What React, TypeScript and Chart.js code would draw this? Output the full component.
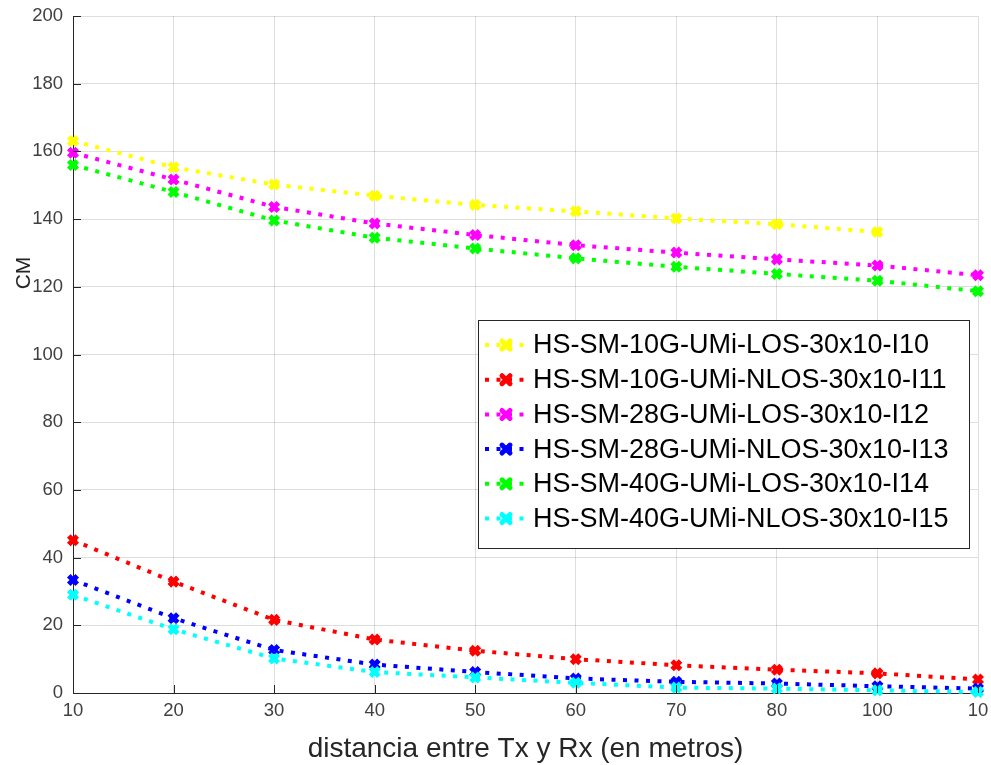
import React, { useEffect, useRef } from "react";
import { Chart, registerables } from "chart.js";

Chart.register(...registerables);

const X_LABELS = ["10", "20", "30", "40", "50", "60", "70", "80", "100", "10"];
const Y_MIN = 0;
const Y_MAX = 200;
const Y_STEP = 20;

const SERIES_NAMES = [
  "HS-SM-10G-UMi-LOS-30x10-I10",
  "HS-SM-10G-UMi-NLOS-30x10-I11",
  "HS-SM-28G-UMi-LOS-30x10-I12",
  "HS-SM-28G-UMi-NLOS-30x10-I13",
  "HS-SM-40G-UMi-LOS-30x10-I14",
  "HS-SM-40G-UMi-NLOS-30x10-I15",
];
const SERIES_COLORS = ["#ffff00", "#ff0000", "#ff00ff", "#0000ff", "#00ff00", "#00ffff"];

const LOS_10G = [163.1, 155.3, 150.2, 146.9, 144.2, 142.3, 140.2, 138.5, 136.2];
const NLOS_10G = [45.1, 32.9, 21.6, 15.8, 12.5, 10.0, 8.2, 6.9, 5.8, 4.0];
const LOS_28G = [159.6, 151.7, 143.6, 138.7, 135.3, 132.3, 130.1, 128.1, 126.3, 123.4];
const NLOS_28G = [33.4, 22.1, 12.7, 8.4, 6.2, 4.3, 3.3, 2.8, 2.0, 1.3];
const LOS_40G = [156.0, 148.0, 139.6, 134.5, 131.3, 128.4, 125.9, 123.8, 121.8, 118.7];
const NLOS_40G = [29.0, 18.8, 10.2, 6.2, 4.6, 3.0, 1.6, 1.3, 0.8, 0.3];

const SERIES_VALUES = [LOS_10G, NLOS_10G, LOS_28G, NLOS_28G, LOS_40G, NLOS_40G];

const X_TITLE = "distancia entre Tx y Rx (en metros)";
const Y_TITLE = "CM";

const FONT = "'Liberation Sans', Arial, Helvetica, sans-serif";
const AXIS_COLOR = "#262626";
const TICK_COLOR = "#404040";
const DASH = [4, 7.5];

function drawX(ctx: CanvasRenderingContext2D, x: number, y: number, r: number, color: string, lw: number) {
  ctx.save();
  ctx.strokeStyle = color;
  ctx.lineWidth = lw;
  ctx.lineCap = "round";
  ctx.setLineDash([]);
  ctx.beginPath();
  ctx.moveTo(x - r, y - r);
  ctx.lineTo(x + r, y + r);
  ctx.moveTo(x - r, y + r);
  ctx.lineTo(x + r, y - r);
  ctx.stroke();
  ctx.restore();
}

const decorPlugin = {
  id: "decor",
  afterDraw(chart: any) {
    const ctx: CanvasRenderingContext2D = chart.ctx;
    const ca = chart.chartArea;
    const xs = chart.scales.x;
    const ys = chart.scales.y;

    // inward tick marks
    ctx.save();
    ctx.strokeStyle = AXIS_COLOR;
    ctx.lineWidth = 1;
    ctx.beginPath();
    for (let v = Y_MIN; v <= Y_MAX; v += Y_STEP) {
      const y = Math.round(ys.getPixelForValue(v)) + 0.5;
      ctx.moveTo(ca.left, y);
      ctx.lineTo(ca.left + 8, y);
    }
    for (let i = 0; i < X_LABELS.length; i++) {
      const x = Math.round(xs.getPixelForValue(i)) + 0.5;
      ctx.moveTo(x, ca.bottom);
      ctx.lineTo(x, ca.bottom - 8);
    }
    ctx.stroke();
    ctx.restore();

    // axis titles
    ctx.save();
    ctx.fillStyle = AXIS_COLOR;
    ctx.font = `28px ${FONT}`;
    ctx.textAlign = "center";
    ctx.textBaseline = "alphabetic";
    ctx.fillText(X_TITLE, (ca.left + ca.right) / 2, 757);
    ctx.translate(30, 273);
    ctx.rotate(-Math.PI / 2);
    ctx.font = `21px ${FONT}`;
    ctx.fillText(Y_TITLE, 0, 0);
    ctx.restore();

    // legend
    const bx = ca.right - 500;
    const by = ca.top + 304;
    const bw = 491;
    const bh = 228;
    ctx.save();
    ctx.fillStyle = "#ffffff";
    ctx.fillRect(bx, by, bw, bh);
    ctx.strokeStyle = AXIS_COLOR;
    ctx.lineWidth = 1;
    ctx.strokeRect(Math.round(bx) + 0.5, Math.round(by) + 0.5, bw, bh);
    ctx.font = `27px ${FONT}`;
    ctx.textBaseline = "middle";
    ctx.textAlign = "left";
    chart.data.datasets.forEach((ds: any, i: number) => {
      const cy = by + 25 + i * 34.7;
      ctx.save();
      ctx.strokeStyle = ds.borderColor;
      ctx.lineWidth = 4;
      ctx.setLineDash(DASH);
      ctx.beginPath();
      ctx.moveTo(bx + 7, cy);
      ctx.lineTo(bx + 50, cy);
      ctx.stroke();
      ctx.restore();
      drawX(ctx, bx + 28, cy, 4, ds.borderColor, 5);
      ctx.fillStyle = "#000000";
      ctx.fillText(ds.label, bx + 55, cy + 1);
    });
    ctx.restore();
  },
};

export default function App() {
  const canvasRef = useRef<HTMLCanvasElement | null>(null);

  useEffect(() => {
    document.body.style.margin = "0";
    const canvas = canvasRef.current;
    if (!canvas) return;
    const datasets = SERIES_VALUES.map((vals, i) => ({
      label: SERIES_NAMES[i],
      data: vals,
      borderColor: SERIES_COLORS[i],
      backgroundColor: SERIES_COLORS[i],
      borderWidth: 4,
      borderDash: DASH,
      borderCapStyle: "butt" as const,
      pointStyle: "crossRot" as const,
      pointRadius: 6,
      pointBorderWidth: 5,
      pointBorderColor: SERIES_COLORS[i],
      pointBackgroundColor: SERIES_COLORS[i],
      tension: 0,
      fill: false,
      clip: false as any,
      order: SERIES_VALUES.length - i,
    }));

    const chart = new Chart(canvas, {
      type: "line",
      data: { labels: X_LABELS, datasets },
      options: {
        responsive: false,
        animation: false,
        maintainAspectRatio: false,
        layout: { padding: { top: 16, right: 13, left: 0, bottom: 0 } },
        plugins: {
          legend: { display: false },
          tooltip: { enabled: false },
        },
        scales: {
          x: {
            type: "category",
            offset: false,
            grid: { color: "rgba(0,0,0,0.13)", drawTicks: false },
            border: { display: true, color: AXIS_COLOR, width: 1 },
            ticks: {
              color: TICK_COLOR,
              font: { family: FONT, size: 18.5 },
              padding: 7,
              maxRotation: 0,
              autoSkip: false,
            },
            afterFit: (scale: any) => {
              scale.height = 72;
              scale.paddingLeft = 0;
              scale.paddingRight = 0;
            },
          },
          y: {
            min: Y_MIN,
            max: Y_MAX,
            grid: { color: "rgba(0,0,0,0.13)", drawTicks: false },
            border: { display: true, color: AXIS_COLOR, width: 1 },
            ticks: {
              stepSize: Y_STEP,
              color: TICK_COLOR,
              font: { family: FONT, size: 18.5 },
              padding: 10,
            },
            afterFit: (scale: any) => {
              scale.width = 73;
              scale.paddingTop = 0;
              scale.paddingBottom = 0;
            },
          },
        },
      },
      plugins: [decorPlugin],
    });
    return () => chart.destroy();
  }, []);

  return (
    <div style={{ width: 991, height: 765, background: "#fff" }}>
      <canvas ref={canvasRef} width={991} height={765} style={{ display: "block", width: 991, height: 765 }} />
    </div>
  );
}
